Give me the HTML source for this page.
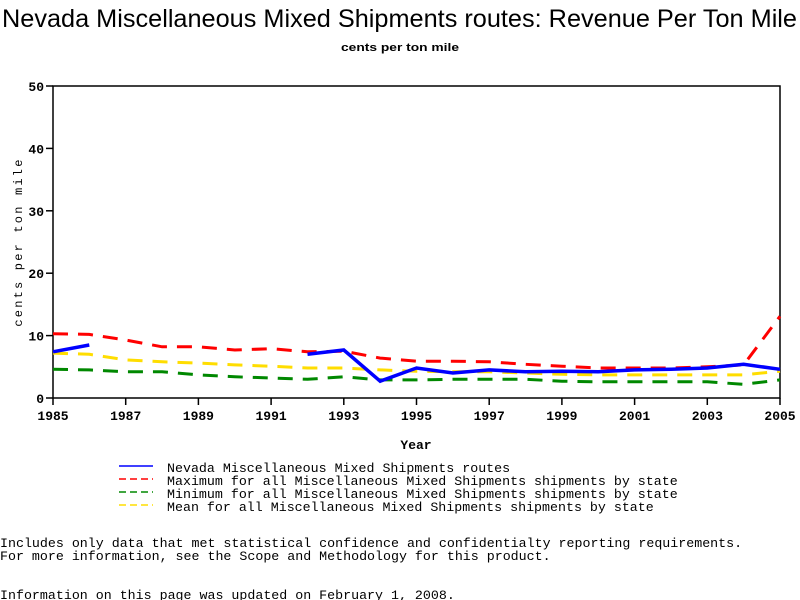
<!DOCTYPE html>
<html><head><meta charset="utf-8"><style>
html,body{margin:0;padding:0;background:#fff;width:800px;height:600px;overflow:hidden}
svg{display:block}
text{font-family:"Liberation Mono",monospace}
</style></head><body>
<svg id="chart" width="800" height="600" xmlns="http://www.w3.org/2000/svg">
<text x="2" y="27" font-family="Liberation Sans, sans-serif" style="font-family:'Liberation Sans',sans-serif" font-size="25" textLength="795" lengthAdjust="spacingAndGlyphs">Nevada Miscellaneous Mixed Shipments routes: Revenue Per Ton Mile</text>
<text x="400" y="51" text-anchor="middle" style="font-family:'Liberation Sans',sans-serif" font-size="11" font-weight="bold" textLength="118" lengthAdjust="spacingAndGlyphs">cents per ton mile</text>
<rect x="53" y="86" width="727" height="312" fill="none" stroke="#000" stroke-width="1.5"/>
<g id="axes"></g>
<g id="series"></g>
<text x="416" y="449" text-anchor="middle" font-size="13" font-weight="bold">Year</text>
<text transform="translate(22,242) rotate(-90)" text-anchor="middle" font-size="12" letter-spacing="2.2">cents per ton mile</text>
<g font-size="13.3">
<line x1="119" y1="466" x2="153" y2="466" stroke="#00f" stroke-width="1.5"/>
<text x="167" y="472">Nevada Miscellaneous Mixed Shipments routes</text>
<line x1="119" y1="479" x2="153" y2="479" stroke="#f00" stroke-width="1.5" stroke-dasharray="7,4"/>
<text x="167" y="485">Maximum for all Miscellaneous Mixed Shipments shipments by state</text>
<line x1="119" y1="492" x2="153" y2="492" stroke="#080" stroke-width="1.5" stroke-dasharray="7,4"/>
<text x="167" y="498">Minimum for all Miscellaneous Mixed Shipments shipments by state</text>
<line x1="119" y1="505" x2="153" y2="505" stroke="#fd0" stroke-width="1.5" stroke-dasharray="7,4"/>
<text x="167" y="511">Mean for all Miscellaneous Mixed Shipments shipments by state</text>
</g>
<text x="0" y="547" font-size="13.3">Includes only data that met statistical confidence and confidentialty reporting requirements.</text>
<text x="0" y="560" font-size="13.3">For more information, see the Scope and Methodology for this product.</text>
<text x="0" y="599" font-size="13.3">Information on this page was updated on February 1, 2008.</text>
</svg>
<script>
const years=[1985,1986,1987,1988,1989,1990,1991,1992,1993,1994,1995,1996,1997,1998,1999,2000,2001,2002,2003,2004,2005];
const nevada=[7.4,8.5,null,null,null,null,null,7.0,7.7,2.7,4.8,4.0,4.5,4.2,4.3,4.2,4.5,4.6,4.8,5.4,4.6];
const maxVals=[10.3,10.2,9.3,8.2,8.2,7.7,7.9,7.4,7.5,6.4,5.9,5.9,5.8,5.4,5.1,4.8,4.8,4.8,5.0,5.3,13.1];
const minVals=[4.6,4.5,4.2,4.2,3.7,3.4,3.2,3.0,3.4,2.9,2.9,3.0,3.0,3.0,2.7,2.6,2.6,2.6,2.6,2.2,2.9];
const meanVals=[7.2,7.0,6.1,5.8,5.6,5.3,5.1,4.8,4.8,4.5,4.3,4.2,4.2,4.0,3.8,3.7,3.7,3.7,3.7,3.7,4.3];
const xTicks=[1985,1987,1989,1991,1993,1995,1997,1999,2001,2003,2005];
const yTicks=[0,10,20,30,40,50];
const NS='http://www.w3.org/2000/svg';
const x=v=>53+(v-1985)*(727/20);
const y=v=>398-v*312/50;
const axes=document.getElementById('axes');
function mk(tag,attrs,parent){const e=document.createElementNS(NS,tag);for(const k in attrs)e.setAttribute(k,attrs[k]);parent.appendChild(e);return e;}
xTicks.forEach(t=>{
  const l=mk('line',{x1:x(t),x2:x(t),y1:398,y2:405,stroke:'#000','stroke-width':1.5},axes);
  
  
  const tx=mk('text',{x:x(t),y:420,'text-anchor':'middle','font-size':13,'font-weight':'bold'},axes);
  
  
  tx.textContent=t;
});
yTicks.forEach(t=>{
  const l=mk('line',{x1:46,x2:53,y1:y(t),y2:y(t),stroke:'#000','stroke-width':1.5},axes);
  
  
  const tx=mk('text',{x:44,y:y(t)+5,'text-anchor':'end','font-size':13,'font-weight':'bold'},axes);
  
  
  tx.textContent=t;
});
const series=document.getElementById('series');
function draw(vals,color,dash,width,name){
  let d='',pen=false;
  vals.forEach((v,i)=>{
    if(v===null){pen=false;return;}
    d+=(pen?'L':'M')+x(years[i]).toFixed(1)+','+y(v).toFixed(1);pen=true;
  });
  const p=mk('path',{d:d,fill:'none',stroke:color,'stroke-width':width},series);
  if(dash)p.setAttribute('stroke-dasharray',dash);
  
  
}
draw(minVals,'#080','15,10',3,'min-line');
draw(meanVals,'#fd0','15,10',3,'mean-line');
draw(maxVals,'#f00','15,10',3,'max-line');
draw(nevada,'#00f',null,3.5,'nevada-line');
</script>
</body></html>
